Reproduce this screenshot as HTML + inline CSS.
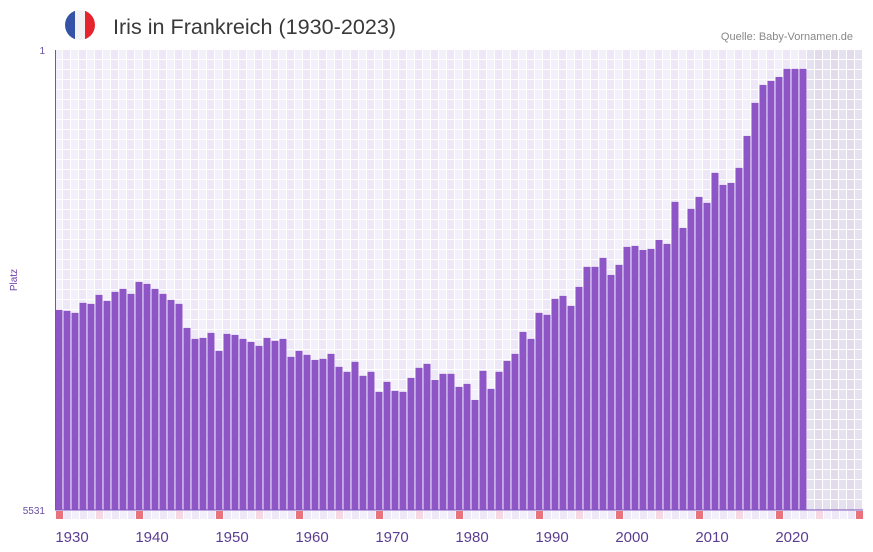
<!DOCTYPE html>
<html><head><meta charset="utf-8"><style>
html,body{margin:0;padding:0;background:#fff;}
svg{display:block;font-family:"Liberation Sans",sans-serif;}
</style></head><body>
<svg id="chart" width="873" height="552" viewBox="0 0 873 552" xmlns="http://www.w3.org/2000/svg">
<defs><clipPath id="fc"><circle cx="80" cy="25" r="15"/></clipPath></defs>
<g clip-path="url(#fc)">
<rect x="65" y="10" width="10" height="30" fill="#3553a6"/>
<rect x="75" y="10" width="10" height="30" fill="#f2f2f4"/>
<rect x="85" y="10" width="10" height="30" fill="#e5242d"/>
</g>
<text x="113" y="34" font-size="21" fill="#3a3a3a" textLength="283" lengthAdjust="spacingAndGlyphs">Iris in Frankreich (1930-2023)</text>
<text x="853" y="40" font-size="11" fill="#888" text-anchor="end">Quelle: Baby-Vornamen.de</text>
<text transform="translate(17,280) rotate(-90)" font-size="10" fill="#6a3fa8" text-anchor="middle">Platz</text>
<text x="45" y="54" font-size="10" fill="#6a4fa0" text-anchor="end">1</text>
<text x="45" y="514" font-size="10" fill="#6a4fa0" text-anchor="end">5531</text>
<g id="grid"></g><g id="bars"></g><g id="marks"></g><g id="xlabels"></g>
<line x1="55.5" y1="50" x2="55.5" y2="510" stroke="#7a4fb8" stroke-width="1"/>
<line x1="55" y1="510" x2="863" y2="510" stroke="#7a4fb8" stroke-width="1"/>
</svg>
<script>
const startYear = 1930;
const endYear = 2030;
const lastDataYear = 2023;
const rankMax = 5531;
const ranks = [3125,3137,3161,3041,3053,2945,3017,2909,2873,2933,
2789,2813,2873,2933,3005,3053,3342,3474,3462,3402,
3618,3414,3426,3474,3510,3558,3462,3498,3474,3690,
3618,3666,3726,3714,3654,3810,3870,3750,3918,3870,
4111,3991,4099,4111,3943,3822,3774,3967,3894,3894,
4051,4015,4207,3858,4075,3870,3738,3654,3390,3474,
3161,3185,2993,2957,3077,2849,2608,2608,2500,2705,
2584,2368,2356,2404,2392,2284,2332,1827,2140,1911,
1767,1839,1478,1623,1599,1418,1034,637,421,373,
325,228,228,228];
const xTicks = [1930,1940,1950,1960,1970,1980,1990,2000,2010,2020];

const NS = "http://www.w3.org/2000/svg";
const X0 = 55, STEP = 8, TOP = 50, BOT = 510;
function xPos(year){ return X0 + (year - startYear) * STEP; }
function yPos(rank){ return TOP + (rank - 1) / (rankMax - 1) * (BOT - TOP); }
function mk(tag, attrs, parent){ const e = document.createElementNS(NS, tag); for (const k in attrs) e.setAttribute(k, attrs[k]); parent.appendChild(e); return e; }

const grid = document.getElementById('grid');
for (let y = startYear; y <= endYear; y++) {
  const future = y > lastDataYear;
  const even = (y - startYear) % 2 === 0;
  const fill = future ? (even ? '#e6e1ef' : '#e1dbec') : (even ? '#f3effb' : '#ede7f8');
  const r = mk('rect', {x: xPos(y), y: TOP, width: STEP, height: BOT - TOP, fill: fill}, grid);
  
  
}
for (let gx = X0; gx <= X0 + (endYear - startYear + 1) * STEP; gx += STEP) {
  const l = mk('line', {x1: gx + 7.5, y1: TOP, x2: gx + 7.5, y2: BOT, stroke: '#fff', 'stroke-width': 1}, grid);
  
  
}
for (let gy = TOP + 10; gy < BOT; gy += 10) {
  const l = mk('line', {x1: X0, y1: gy - 0.5, x2: 863, y2: gy - 0.5, stroke: '#fff', 'stroke-width': 1}, grid);
  
  
}

const bars = document.getElementById('bars');
ranks.forEach((rk, i) => {
  const yr = startYear + i;
  const top = yPos(rk);
  const b = mk('rect', {x: xPos(yr) + 0.5, y: top, width: 7, height: BOT - top, fill: '#8e55c7'}, bars);
  
  
});

const marks = document.getElementById('marks');
for (let y = startYear; y <= endYear; y++) {
  const k = (y - startYear) % 10;
  const fill = k === 0 ? '#e8737d' : (k === 5 ? '#f5d8e2' : ((y - startYear) % 2 === 0 ? '#f3effb' : '#ede7f8'));
  const m = mk('rect', {x: xPos(y) + 1, y: 511, width: 7, height: 8, fill: fill}, marks);
  
  
}

const xl = document.getElementById('xlabels');
xTicks.forEach(t => {
  const tx = mk('text', {x: xPos(t) + 17, y: 542, 'font-size': 15, fill: '#5b3d92', 'text-anchor': 'middle'}, xl);
  tx.textContent = t;
  
  
});
</script>
</body></html>
